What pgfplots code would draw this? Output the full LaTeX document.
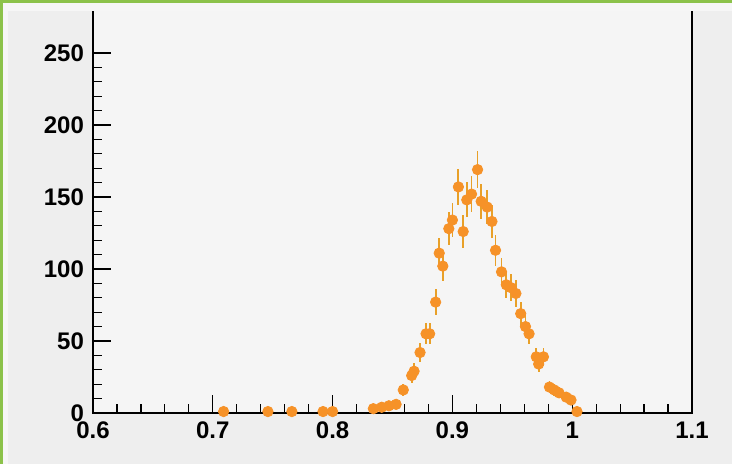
\documentclass[border=0pt]{standalone}
\usepackage{pgfplots}
\pgfplotsset{compat=1.18}
\usepackage{fontspec}
\setmainfont{Liberation Sans}
\definecolor{bgout}{RGB}{238,238,238}
\definecolor{bgin}{RGB}{245,245,245}
\definecolor{band}{RGB}{246,246,246}
\definecolor{grn}{RGB}{140,194,74}
\definecolor{mk}{RGB}{246,146,40}
\definecolor{eb}{RGB}{232,160,40}
\begin{document}
\begin{tikzpicture}
\useasboundingbox (0,0) rectangle (366pt,232pt);
\fill[bgout] (0,0) rectangle (366pt,232pt);
\begin{axis}[
  at={(46.5pt,25.5pt)}, anchor=south west,
  scale only axis, width=299.5pt, height=201.6pt,
  xmin=0.6, xmax=1.1, ymin=0, ymax=280,
  axis background/.style={fill=bgin},
  xtick={0.6,0.7,0.8,0.9,1,1.1},
  xticklabels={0.6,0.7,0.8,0.9,1,1.1},
  ytick={0,50,100,150,200,250},
  minor x tick num=4, minor y tick num=4,
  xtick pos=bottom, ytick pos=left,
  tick align=inside,
  major tick length=9pt, minor tick length=4.5pt,
  tick style={black, line width=0.6pt},
  axis line style={black, line width=0.8pt},
  /pgf/number format/assume math mode=true,
  ticklabel style={font=\fontsize{12}{14}\selectfont\bfseries},
  xticklabel style={yshift=-1pt},
  yticklabel style={xshift=-1pt},
  clip=false,
]
\addplot[only marks, mark=*, mark size=2.6pt, mark options={fill=mk, draw=mk},
  error bars/.cd, y dir=both, y explicit, error mark=none,
  error bar style={line width=0.9pt, eb}]
table[x=x, y=y, y error=e] {
x y e
0.709 1 1
0.746 1 1
0.766 1 1
0.792 1 1
0.800 1 1
0.834 3 1.73
0.841 4 2
0.847 5 2.24
0.853 6 2.45
0.859 16 4
0.866 26 5.10
0.868 29 5.39
0.873 42 6.48
0.878 55 7.42
0.881 55 7.42
0.886 77 8.77
0.889 111 10.54
0.892 102 10.10
0.897 128 11.31
0.900 134 11.58
0.905 157 12.53
0.909 126 11.22
0.912 148 12.17
0.916 152 12.33
0.921 169 13.00
0.924 147 12.12
0.929 143 11.96
0.933 133 11.53
0.936 113 10.63
0.941 98 9.90
0.945 89 9.43
0.949 87 9.33
0.953 83 9.11
0.957 69 8.31
0.961 60 7.75
0.964 55 7.42
0.970 39 6.24
0.972 34 5.83
0.976 39 6.24
0.981 18 4.24
0.985 16 4.00
0.989 14 3.74
0.995 11 3.32
0.999 9 3.00
1.004 1 1.00
};
\end{axis}
\fill[band] (0,226.3pt) rectangle (366pt,232pt);
\fill[band] (0,0) rectangle (4pt,232pt);
\fill[grn] (0,230.5pt) rectangle (366pt,232pt);
\fill[grn] (0,0) rectangle (1.6pt,232pt);
\end{tikzpicture}
\end{document}
